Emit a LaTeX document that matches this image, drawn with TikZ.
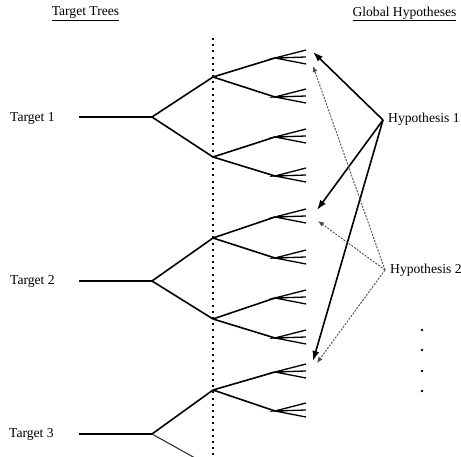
\documentclass[tikz,border=0pt]{standalone}
\usepackage{fontspec}
\setmainfont{Liberation Serif}
\usetikzlibrary{arrows.meta}
\begin{document}
\begin{tikzpicture}[x=1pt,y=-1pt,
  tree/.style={line width=1.6pt},
  fanline/.style={line width=1.3pt},
  lbl/.style={font=\fontsize{13.6}{16}\selectfont, inner sep=0pt},
  hyparrow/.style={line width=1.6pt,-{Latex[length=10pt,width=7pt]}},
  dotarrow/.style={line width=0.9pt, black!70, dash pattern=on 2pt off 1.3pt, -{Latex[length=6pt,width=5pt]}},
  vdots/.style={line width=1.2pt, dash pattern=on 2pt off 4.2pt}
]
\clip (0,0) rectangle (461,457);
% titles
\node[lbl] (tt) at (85.5,14) {\underline{Target Trees}};
\node[lbl] (gh) at (404.5,14) {\underline{Global Hypotheses}};
% dotted time line
\coordinate (vtop) at (213,38);
\coordinate (vbot) at (213,460);
\draw[vdots] (vtop) -- (vbot);
% target labels
\node[lbl, anchor=west] (T1) at (10,118) {Target 1};
\node[lbl, anchor=west] (T2) at (10,281) {Target 2};
\node[lbl, anchor=west] (T3) at (9,434) {Target 3};
% roots
\coordinate (s1) at (79,117); \coordinate (r1) at (152,117);
\coordinate (s2) at (79,281); \coordinate (r2) at (152,281);
\coordinate (s3) at (79,434); \coordinate (r3) at (152,434);
% first-level branches
\coordinate (a1) at (213,77);  \coordinate (b1) at (213,157);
\coordinate (a2) at (213,238); \coordinate (b2) at (213,319);
\coordinate (a3) at (213,390); \coordinate (b3) at (213,468);
\draw[tree] (s1) -- (r1) (a1) -- (r1) -- (b1);
\draw[tree] (s2) -- (r2) (a2) -- (r2) -- (b2);
\draw[tree] (s3) -- (r3) (a3) -- (r3);
\draw[line width=1.1pt, black!80] (r3) -- (b3);
% second-level branches
\foreach \p/\n/\y in {a1/f1/58, a1/f2/97, b1/f3/137, b1/f4/176,
                      a2/f5/217, a2/f6/258, b2/f7/298, b2/f8/338,
                      a3/f9/372, a3/f10/411}{
  \coordinate (\n) at (275,\y);
  \coordinate (\n a) at (306,\y-8);
  \coordinate (\n b) at (306,\y-1);
  \coordinate (\n c) at (306,\y+6);
  \draw[tree] (\p) -- (\n);
  \draw[fanline] (\n a) -- (\n) -- (\n b) (\n) -- (\n c);
}
% hypotheses
\node[lbl, anchor=west] (H1) at (388,119) {Hypothesis 1};
\node[lbl, anchor=west] (H2) at (390,270) {Hypothesis 2};
\coordinate (h1) at (383,120);
\coordinate (h2) at (385,270);
\coordinate (e11) at (313,52);
\coordinate (e12) at (317,210);
\coordinate (e13) at (313,361);
\coordinate (e21) at (313,66);
\coordinate (e22) at (318,221);
\coordinate (e23) at (317,363);
\draw[hyparrow] (h1) -- (e11);
\draw[hyparrow] (h1) -- (e12);
\draw[hyparrow] (h1) -- (e13);
\draw[dotarrow] (h2) -- (e21);
\draw[dotarrow] (h2) -- (e22);
\draw[dotarrow] (h2) -- (e23);
% continuation dots
\foreach \y in {330,350,371,391}{ \fill (422,\y) circle (1.4pt); }
\end{tikzpicture}
\end{document}
